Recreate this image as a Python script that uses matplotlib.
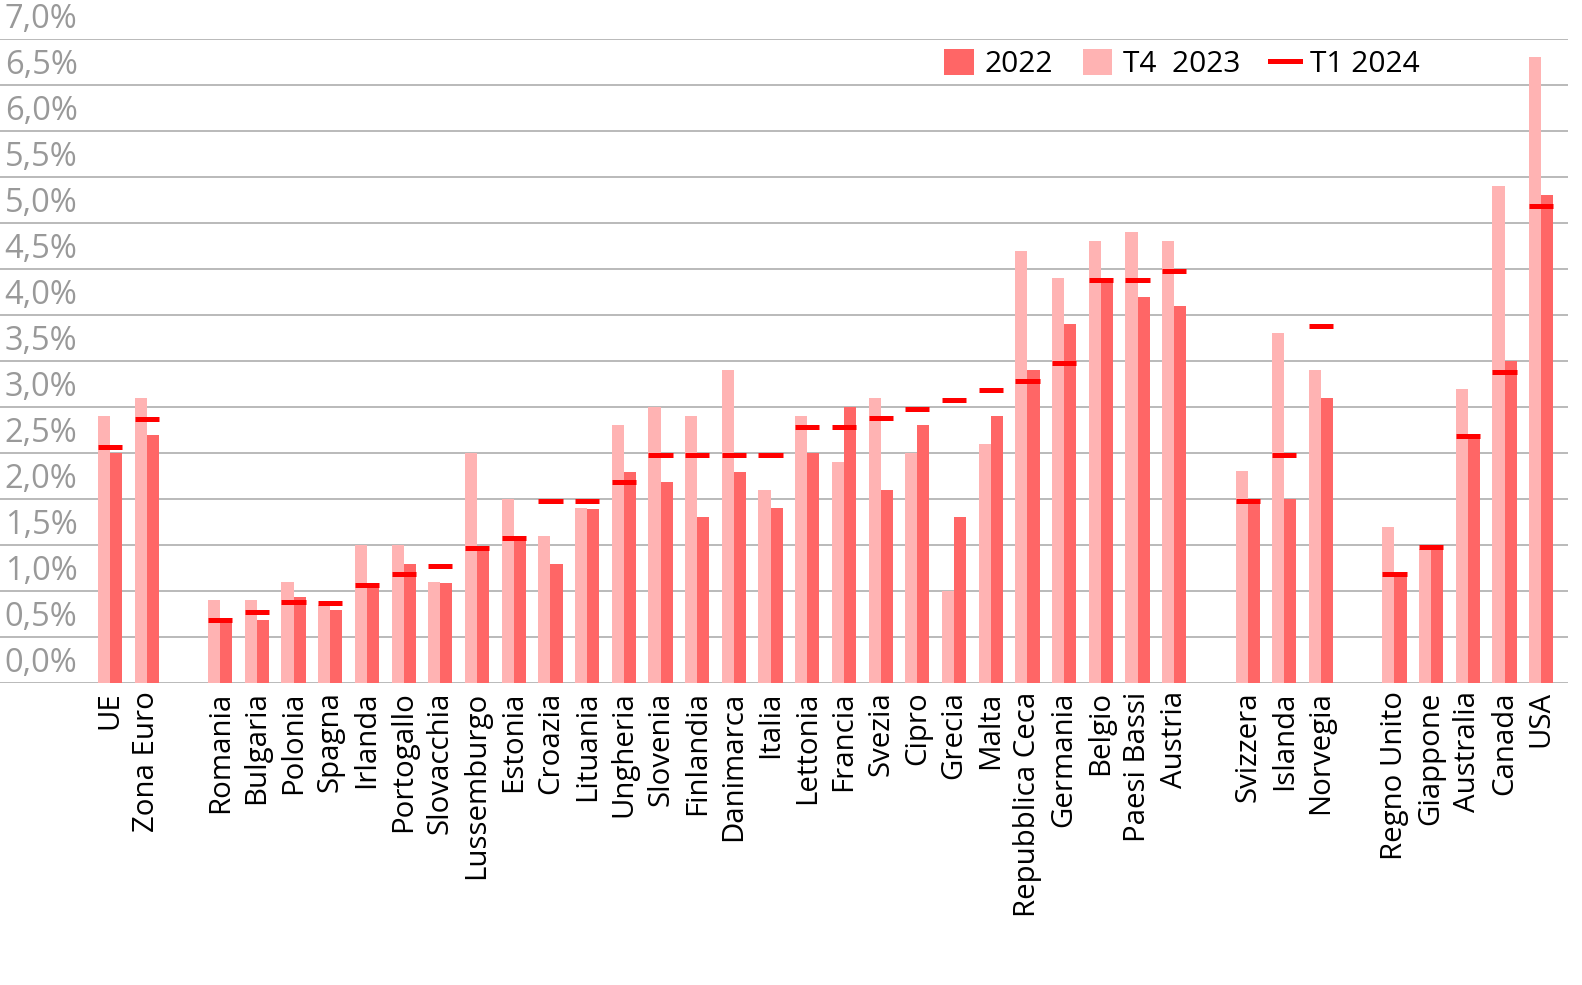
import matplotlib
matplotlib.use("Agg")
import matplotlib.pyplot as plt
from matplotlib.patches import Patch
from matplotlib.lines import Line2D
import numpy as np

plt.rcParams['font.family'] = ['Open Sans', 'DejaVu Sans']

countries = ["UE", "Zona Euro", "",
             "Romania", "Bulgaria", "Polonia", "Spagna", "Irlanda", "Portogallo",
             "Slovacchia", "Lussemburgo", "Estonia", "Croazia", "Lituania", "Ungheria",
             "Slovenia", "Finlandia", "Danimarca", "Italia", "Lettonia", "Francia",
             "Svezia", "Cipro", "Grecia", "Malta", "Repubblica Ceca", "Germania",
             "Belgio", "Paesi Bassi", "Austria", "",
             "Svizzera", "Islanda", "Norvegia", "",
             "Regno Unito", "Giappone", "Australia", "Canada", "USA"]

# T4 2023 (light bars)
t4_2023 = [2.9, 3.1, None,
           0.9, 0.9, 1.1, 0.85, 1.5, 1.5,
           1.1, 2.5, 2.0, 1.6, 1.9, 2.8,
           3.0, 2.9, 3.4, 2.1, 2.9, 2.4,
           3.1, 2.5, 1.0, 2.6, 4.7, 4.4,
           4.8, 4.9, 4.8, None,
           2.3, 3.8, 3.4, None,
           1.7, 1.46, 3.2, 5.4, 6.8]

# 2022 (dark bars)
y2022 = [2.5, 2.7, None,
         0.68, 0.69, 0.93, 0.79, 1.06, 1.29,
         1.09, 1.48, 1.58, 1.29, 1.89, 2.29,
         2.19, 1.8, 2.29, 1.9, 2.5, 3.0,
         2.1, 2.8, 1.8, 2.9, 3.4, 3.9,
         4.37, 4.2, 4.1, None,
         1.98, 2.0, 3.1, None,
         1.16, 1.48, 2.66, 3.5, 5.3]

# T1 2024 (markers)
t1_2024 = [2.57, 2.87, None,
           0.68, 0.77, 0.88, 0.87, 1.07, 1.18,
           1.27, 1.47, 1.58, 1.98, 1.98, 2.18,
           2.48, 2.48, 2.48, 2.48, 2.78, 2.78,
           2.88, 2.98, 3.08, 3.18, 3.28, 3.48,
           4.38, 4.38, 4.48, None,
           1.98, 2.48, 3.88, None,
           1.18, 1.48, 2.68, 3.38, 5.18]

yticks = [0, 0.5, 1, 1.5, 2, 2.5, 3, 3.5, 4, 4.5, 5, 5.5, 6, 6.5, 7]
ytick_labels = ["0,0%", "0,5%", "1,0%", "1,5%", "2,0%", "2,5%", "3,0%", "3,5%",
                "4,0%", "4,5%", "5,0%", "5,5%", "6,0%", "6,5%", "7,0%"]

W, H = 1582, 985
fig = plt.figure(figsize=(W / 100, H / 100), dpi=100)
ax = fig.add_axes([0, 1 - 683 / H, 1568 / W, (683 - 39) / H])

light = '#FFB3B3'
dark = '#FF6666'
red = '#FF0000'
bw = 0.33

x = np.arange(len(countries))
for i, c in enumerate(countries):
    if t4_2023[i] is None:
        continue
    ax.bar(x[i] - bw / 2, t4_2023[i], width=bw, color=light, zorder=2, linewidth=0)
    ax.bar(x[i] + bw / 2, y2022[i], width=bw, color=dark, zorder=2, linewidth=0)
    ax.plot([x[i] - bw, x[i] + bw], [t1_2024[i], t1_2024[i]], color=red,
            lw=3.6, solid_capstyle='butt', zorder=3)

ax.set_xlim(-3.0, 39.73)
ax.set_ylim(0, 7)
for s in ax.spines.values():
    s.set_visible(False)
ax.set_yticks([])
for yv in yticks:
    ax.axhline(yv, color='#B4B4B4', lw=1.3, zorder=1)
for yv, lab in zip(yticks, ytick_labels):
    ax.text(0.003, yv + 0.03, lab, transform=ax.get_yaxis_transform(),
            ha='left', va='bottom', fontsize=23.5, color='#999999')

ax.set_xticks(x)
ax.set_xticklabels(countries, rotation=90, fontsize=21.2, color='black')
ax.tick_params(axis='x', length=0, pad=6)

handles = [Patch(facecolor=dark, edgecolor='none', label='2022'),
           Patch(facecolor=light, edgecolor='none', label='T4  2023'),
           Line2D([0], [0], color=red, lw=3.6, label='T1 2024')]
fig.legend(handles=handles, loc='center', ncol=3, frameon=False,
           bbox_to_anchor=(1182 / W, 1 - 64 / H), fontsize=21.5,
           handlelength=1.0, handleheight=1.0, handletextpad=0.35,
           columnspacing=1.0)

fig.savefig('out.png', dpi=100)
